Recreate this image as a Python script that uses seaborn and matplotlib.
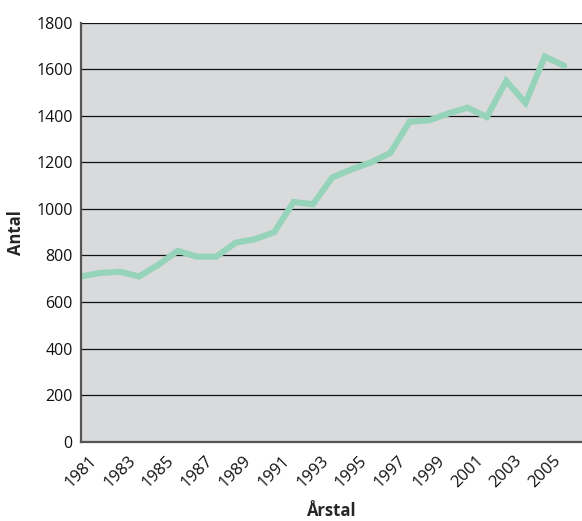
import matplotlib
matplotlib.use("Agg")
import matplotlib.pyplot as plt
import seaborn as sns
import pandas as pd

# Annual counts, 1981-2006
years = list(range(1981, 2007))
antal = [710, 725, 730, 710, 760, 820, 795, 795, 855, 870, 900, 1030, 1020,
         1135, 1170, 1200, 1240, 1375, 1380, 1410, 1435, 1395, 1550, 1455,
         1655, 1615]
y_ticks = [0, 200, 400, 600, 800, 1000, 1200, 1400, 1600, 1800]
x_labels = [str(y) if (y - 1981) % 2 == 0 else "" for y in years]

df = pd.DataFrame({"Årstal": years, "Antal": antal})

sns.set_style("white")
plt.rcParams["font.family"] = ["Open Sans", "DejaVu Sans"]

fig = plt.figure(figsize=(5.82, 5.21), dpi=100)
ax = fig.add_axes([0.1392, 0.1522, 0.861, 0.8042])
ax.set_facecolor("#D9DADC")

sns.lineplot(data=df, x="Årstal", y="Antal", ax=ax, color="#96D3BB",
             linewidth=4.4, solid_joinstyle="miter", zorder=3)

ax.set_xlim(1981, 2006.93)
ax.set_ylim(0, 1800)
ax.set_yticks(y_ticks)
ax.set_yticklabels([str(v) for v in y_ticks], fontsize=11.5, color="#111111")
ax.set_xticks(years)
ax.set_xticklabels(x_labels, rotation=45, ha="center", fontsize=12,
                   color="#111111")

for v in y_ticks[1:]:
    ax.axhline(v, color="#111111", linewidth=0.9, zorder=1)

for side in ["top", "right"]:
    ax.spines[side].set_visible(False)
for side in ["left", "bottom"]:
    ax.spines[side].set_color("#555555")
    ax.spines[side].set_linewidth(1.6)
ax.spines["left"].set_zorder(4)

ax.tick_params(axis="both", direction="out", length=4, width=1.2,
               color="#555555", pad=2)
ax.tick_params(axis="x", pad=4)

ax.set_xlabel("Årstal", fontsize=12, fontweight="bold", labelpad=8)
ax.set_ylabel("Antal", fontsize=12, fontweight="bold", labelpad=8)

fig.savefig("out.png", dpi=100)
